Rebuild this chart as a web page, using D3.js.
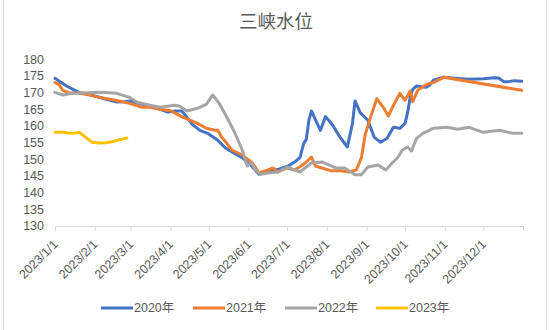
<!DOCTYPE html>
<html><head><meta charset="utf-8">
<script src="https://cdn.jsdelivr.net/npm/d3@7/dist/d3.min.js"></script>
<style>
html,body{margin:0;padding:0;background:#fff;}
svg{display:block;font-family:"Liberation Sans","Noto Sans CJK SC",sans-serif;}
</style></head>
<body>
<svg id="chart" width="550" height="330"></svg>
<script>
const title = "三峡水位";
const seriesNames = ["2020年","2021年","2022年","2023年"];
const seriesColors = ["#4472C4","#ED7D31","#A5A5A5","#FFC000"];
const yTicks = [130,135,140,145,150,155,160,165,170,175,180];
const xTickLabels = ["2023/1/1","2023/2/1","2023/3/1","2023/4/1","2023/5/1","2023/6/1","2023/7/1","2023/8/1","2023/9/1","2023/10/1","2023/11/1","2023/12/1"];

const dates2020 = ["1/1","1/5","1/10","1/15","1/20","1/27","2/1","2/10","2/18","2/24","3/1","3/8","3/16","3/24","3/30","4/5","4/10","4/14","4/18","4/24","4/30","5/8","5/14","5/20","5/27","6/2","6/4","6/9","6/16","6/24","7/2","7/8","7/11","7/14","7/16","7/18","7/20","7/23","7/27","7/31","8/3","8/6","8/11","8/17","8/21","8/23","8/27","9/2","9/7","9/12","9/17","9/22","9/27","10/1","10/3","10/5","10/7","10/10","10/17","10/20","10/23","10/31","11/9","11/20","12/1","12/10","12/13","12/17","12/21","12/25","12/31"];
const values2020 = [174.3,173.3,172,171,170,169.5,169,168,167.2,167.3,167.5,166.7,166,165,164.2,164.5,164.5,162.5,160.5,158.7,157.8,155.7,153.4,152,150.5,148.5,147.7,145.5,146.2,147,148,149.5,150.5,154.8,156,161.7,164.5,162,158.7,162.8,161.5,160,156.8,153.7,160.8,167.5,164,161.7,156.6,155.1,156.3,159.6,159.3,160.8,164,168.6,171,172,171.6,172.2,173.7,174.6,174.3,174,174.2,174.5,174.4,173.3,173.3,173.6,173.4];

const dates2021 = ["1/1","1/4","1/7","1/12","1/20","1/25","2/2","2/17","2/28","3/10","3/16","3/24","4/1","4/11","4/22","4/29","5/6","5/8","5/11","5/15","5/19","5/27","5/30","6/4","6/9","6/16","6/20","6/24","7/1","7/7","7/13","7/16","7/20","7/23","7/28","8/4","8/12","8/18","8/24","8/28","8/31","9/4","9/9","9/14","9/18","9/23","9/27","10/1","10/5","10/7","10/11","10/18","10/23","10/31","12/31"];
const values2021 = [173,172.5,170.7,170,169.9,169.5,168.8,167.7,166.8,165.6,165.6,165,164.6,162.6,160.8,159.3,158.7,158.7,156.6,154.8,152.8,151.3,150.4,148.9,145.9,146.8,147.4,146.2,147.4,146.8,148.3,149.2,150.7,148,147.4,146.6,146.6,146.2,146.8,150.5,157.5,162.5,168.2,165.6,163,167,169.8,167.7,170.5,167.3,170.8,172.5,173,174.6,170.7];

const dates2022 = ["1/1","1/7","1/15","1/25","2/5","2/18","2/28","3/6","3/16","3/24","4/4","4/8","4/14","4/22","4/29","5/4","5/9","5/12","5/15","5/21","5/27","5/31","6/3","6/6","6/10","6/16","6/24","7/1","7/11","7/20","7/28","8/8","8/15","8/23","8/28","9/2","9/10","9/16","9/21","9/25","9/29","10/3","10/6","10/10","10/15","10/23","11/3","11/11","11/20","12/1","12/14","12/24","12/31"];
const values2022 = [170.1,169.3,169.8,170,170.1,169.8,168.6,167.1,166.2,165.6,166.2,166,164.5,165.3,166.5,169.3,166.8,164.7,162.6,158.2,152.8,148,149.2,147,145.5,145.9,146.2,147.7,146.2,148.9,149.2,147.4,147.4,145.4,145.4,147.7,148.3,146.8,148.9,150.4,152.8,153.7,152.5,156.3,157.8,159.3,159.6,159,159.6,158.1,158.7,157.8,157.8];

const dates2023 = ["1/1","1/8","1/12","1/17","1/20","1/25","1/30","2/5","2/10","2/16","2/21","2/26"];
const values2023 = [158.1,158.1,157.8,157.9,158.1,156.6,155.1,154.9,155,155.4,155.9,156.4];

const allDates = [dates2020,dates2021,dates2022,dates2023];
const allValues = [values2020,values2021,values2022,values2023];

const parseMD = s => { const [m,d] = s.split("/").map(Number); return new Date(2023, m-1, d); };
const parseFull = d3.timeParse("%Y/%-m/%-d");

const svg = d3.select("#chart");
const W = 550, H = 330;
const plot = {left:55, right:523, top:59.3, bottom:226};

// chart border
svg.append("rect").attr("x",3.5).attr("y",-1).attr("width",543).attr("height",H+2)
  .attr("fill","none").attr("stroke","#d9d9d9").attr("stroke-width",1);

const x = d3.scaleTime().domain([new Date(2023,0,1), new Date(2024,0,1)]).range([plot.left, plot.right]);
const y = d3.scaleLinear().domain([130,180]).range([plot.bottom, plot.top]);

// title
svg.append("text").attr("x",276).attr("y",28).attr("text-anchor","middle")
  .attr("font-size",18.5).attr("fill","#595959").text(title);

// y labels
svg.append("g").selectAll("text").data(yTicks).join("text")
  .attr("x",44).attr("y",d=>y(d)).attr("dy","0.35em").attr("text-anchor","end")
  .attr("font-size",12.5).attr("fill","#595959").text(d=>d);

// x axis
const tickDates = xTickLabels.map(parseFull).concat([new Date(2024,0,1)]);
const xAxis = d3.axisBottom(x).tickValues(tickDates).tickSize(5).tickFormat("");
const gx = svg.append("g").attr("transform",`translate(0,${plot.bottom})`).call(xAxis);
gx.select(".domain").attr("stroke","#d9d9d9").attr("d",`M${plot.left},0.5H${plot.right}`);
gx.selectAll(".tick line").attr("stroke","#d9d9d9").attr("y1",-0).attr("y2",5);

svg.append("g").selectAll("text").data(xTickLabels).join("text")
  .attr("transform",d=>`translate(${x(parseFull(d))+0.5},${plot.bottom+16}) rotate(-45)`)
  .attr("text-anchor","end").attr("dy","0.35em")
  .attr("font-size",12.5).attr("fill","#595959").text(d=>d);

// lines
const line = d3.line().x(d=>x(d[0])).y(d=>y(d[1])).curve(d3.curveLinear);
seriesNames.forEach((name,i)=>{
  const pts = allDates[i].map((s,j)=>[parseMD(s), allValues[i][j]]);
  svg.append("path").datum(pts).attr("d",line).attr("fill","none")
    .attr("stroke",seriesColors[i]).attr("stroke-width",3)
    .attr("stroke-linejoin","round").attr("stroke-linecap","round");
});

// legend
const legendX = [101,193,285,376];
const lg = svg.append("g");
seriesNames.forEach((name,i)=>{
  lg.append("line").attr("x1",legendX[i]).attr("x2",legendX[i]+32).attr("y1",308).attr("y2",308)
    .attr("stroke",seriesColors[i]).attr("stroke-width",3);
  lg.append("text").attr("x",legendX[i]+33).attr("y",308).attr("dy","0.35em")
    .attr("font-size",12.5).attr("fill","#595959").text(name);
});
</script>
</body></html>
